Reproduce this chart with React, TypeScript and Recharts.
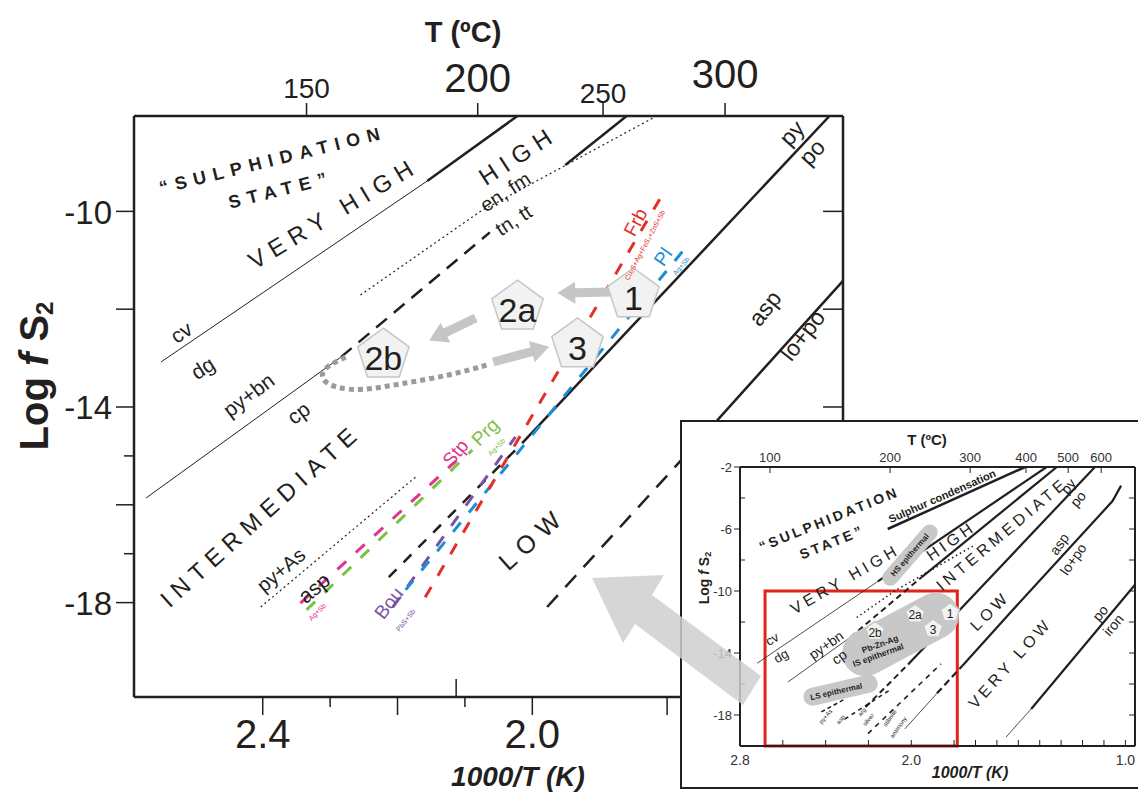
import React from 'react';
import { LineChart, Line, XAxis, YAxis, ReferenceDot, ReferenceLine, ReferenceArea } from 'recharts';

const FONT = '"Liberation Sans", Arial, Helvetica, sans-serif';
const INK = '#231f20';

// ================= MAIN DIAGRAM (x = 1000/T (K), y = log fS2) =================
const mainXDomain = [1.539, 2.591];
const mainYDomain = [-19.93, -8.05];
const mainXTicks = [2.4, 2.3, 2.2, 2.113, 2.1, 2.0, 1.8];
const mainXMajor = [2.4, 2.2, 2.0, 1.8];
const mainXLabels = ['2.4', '2.0'];
const innerTickValue = 2.113;
const mainYTicks = [-10, -12, -14, -15, -16, -17, -18];
const mainYLabels = [-10, -14, -18];
const topTickPositions = [2.335, 2.081, 1.895, 1.714];
const topTickLabels = ['150', '200', '250', '300'];

const cvDgThin = [{ x: 2.551, y: -13.08 }, { x: 2.156, y: -9.38 }];
const cvDgThick = [{ x: 2.156, y: -9.38 }, { x: 2.022, y: -8.05 }];
const pyBnCp = [{ x: 2.573, y: -15.86 }, { x: 2.284, y: -12.98 }];
const enTnDashed = [{ x: 2.284, y: -12.98 }, { x: 2.063, y: -10.43 }];
const enTnThick = [{ x: 1.951, y: -9.05 }, { x: 1.86, y: -8.05 }];
const dottedHigh = [{ x: 2.255, y: -11.71 }, { x: 2.077, y: -10.0 }, { x: 1.821, y: -8.09 }];
const pyPoDashed = [{ x: 2.213, y: -17.48 }, { x: 2.015, y: -14.74 }];
const pyPoSolid = [{ x: 2.015, y: -14.74 }, { x: 1.559, y: -8.05 }];
const aspDashed = [{ x: 1.978, y: -18.09 }, { x: 1.76, y: -14.8 }];
const aspSolid = [{ x: 1.76, y: -14.8 }, { x: 1.539, y: -11.42 }];
const pyAsDotted = [{ x: 2.403, y: -18.09 }, { x: 2.173, y: -15.43 }];
const frbRed = [{ x: 2.159, y: -17.89 }, { x: 1.807, y: -9.66 }];
const plBlue = [{ x: 2.188, y: -17.74 }, { x: 1.773, y: -10.75 }];
const bouPurple = [{ x: 2.207, y: -18.09 }, { x: 2.025, y: -14.61 }];
const stpMagenta = [{ x: 2.344, y: -18.01 }, { x: 2.113, y: -15.1 }];
const prgGreen = [{ x: 2.335, y: -18.15 }, { x: 2.089, y: -14.88 }];
const pathCurve = [
  { x: 2.277, y: -12.98 }, { x: 2.311, y: -13.2 }, { x: 2.314, y: -13.45 }, { x: 2.292, y: -13.61 },
  { x: 2.255, y: -13.67 }, { x: 2.196, y: -13.53 }, { x: 2.121, y: -13.35 }, { x: 2.067, y: -13.14 },
];

const stages = [
  { t: '1', x: 1.85, y: -11.71 },
  { t: '2a', x: 2.022, y: -11.96 },
  { t: '2b', x: 2.221, y: -12.94 },
  { t: '3', x: 1.933, y: -12.73 },
];
const stageArrows = [
  { x1: 1.884, y1: -11.65, x2: 1.963, y2: -11.67 },
  { x1: 2.084, y1: -12.18, x2: 2.153, y2: -12.64 },
  { x1: 2.058, y1: -13.08, x2: 1.975, y2: -12.77 },
];

const mainLabels = [
  { t: '\u201cSULPHIDATION', x: 2.385, y: -8.95, a: -14, s: 18, b: 1, ls: 7 },
  { t: 'STATE\u201d', x: 2.373, y: -9.56, a: -14, s: 18, b: 1, ls: 7 },
  { t: 'VERY HIGH', x: 2.295, y: -10.03, a: -31, s: 24, ls: 7 },
  { t: 'HIGH', x: 2.021, y: -8.85, a: -33, s: 24, ls: 7 },
  { t: 'en, fm', x: 2.04, y: -9.6, a: -33, s: 20 },
  { t: 'tn, tt', x: 2.028, y: -10.18, a: -33, s: 20 },
  { t: 'cv', x: 2.521, y: -12.47, a: -33, s: 21 },
  { t: 'dg', x: 2.489, y: -13.2, a: -33, s: 21 },
  { t: 'py+bn', x: 2.421, y: -13.75, a: -37, s: 21 },
  { t: 'cp', x: 2.347, y: -14.12, a: -37, s: 21 },
  { t: 'INTERMEDIATE', x: 2.403, y: -16.21, a: -42, s: 24, ls: 7 },
  { t: 'py+As', x: 2.373, y: -17.33, a: -40, s: 20 },
  { t: 'asp', x: 2.324, y: -17.7, a: -40, s: 21 },
  { t: 'Stp', x: 2.114, y: -14.94, a: -50, s: 19, c: '#e2338f' },
  { t: 'Prg', x: 2.07, y: -14.51, a: -45, s: 19, c: '#7cc242' },
  { t: 'Bou', x: 2.213, y: -18.01, a: -52, s: 19, c: '#7b52a1' },
  { t: 'Frb', x: 1.847, y: -10.22, a: -62, s: 19, c: '#e42e2b' },
  { t: 'Pl', x: 1.806, y: -10.93, a: -55, s: 19, c: '#1b8fd3' },
  { t: 'LOW', x: 2.0, y: -16.68, a: -42, s: 25, ls: 8 },
  { t: 'py', x: 1.615, y: -8.4, a: -48, s: 23 },
  { t: 'po', x: 1.585, y: -8.79, a: -48, s: 23 },
  { t: 'asp', x: 1.655, y: -11.98, a: -52, s: 23 },
  { t: 'lo+po', x: 1.599, y: -12.53, a: -52, s: 23 },
  { t: 'Cu\u2082S+Ag+FeS\u2082+ZnS+Sb', x: 1.833, y: -10.69, a: -62, s: 7, c: '#e42e2b' },
  { t: 'Ag+Sb', x: 1.779, y: -11.12, a: -50, s: 7, c: '#1b8fd3' },
  { t: 'Ag+Sb', x: 2.053, y: -14.82, a: -45, s: 7, c: '#7cc242' },
  { t: 'PbS+Sb', x: 2.188, y: -18.36, a: -52, s: 7, c: '#7b52a1' },
  { t: 'Ag+Sb', x: 2.319, y: -18.19, a: -45, s: 7, c: '#e2338f' },
];

// ================= INSET DIAGRAM =================
const insetXDomain = [0.955, 2.8];
const insetYDomain = [-20, -2];
const insetXTicks = [2.8, 2.6, 2.4, 2.2, 2.0, 1.8, 1.7, 1.6, 1.5, 1.4, 1.3, 1.2, 1.1, 1.0];
const insetXLabels = ['2.8', '2.0', '1.0'];
const insetYTicks = [-2, -4, -6, -8, -10, -12, -14, -16, -18];
const insetYLabels = [-2, -6, -10, -14, -18];
const insetTopPositions = [2.66, 2.099, 1.725, 1.464, 1.267, 1.113];
const insetTopLabels = ['100', '200', '300', '400', '500', '600'];

const inSulphur = [{ x: 2.11, y: -6.0 }, { x: 1.468, y: -2.0 }];
const inCvDgThin = [{ x: 2.72, y: -14.66 }, { x: 2.156, y: -9.38 }];
const inCvDgThick = [{ x: 2.156, y: -9.38 }, { x: 1.368, y: -2.0 }];
const inPyBnCp = [{ x: 2.576, y: -15.87 }, { x: 2.284, y: -12.98 }];
const inEnTnDashed = [{ x: 2.284, y: -12.98 }, { x: 1.951, y: -9.1 }];
const inEnTnThick = [{ x: 1.951, y: -9.1 }, { x: 1.32, y: -2.0 }];
const inDotted = [{ x: 2.255, y: -11.71 }, { x: 2.077, y: -10.0 }, { x: 1.7, y: -7.0 }];
const inPyPoDashed = [{ x: 2.213, y: -17.48 }, { x: 2.015, y: -14.74 }];
const inPyPoThick = [{ x: 2.015, y: -14.74 }, { x: 1.142, y: -2.0 }];
const inAspThin = [{ x: 2.03, y: -18.9 }, { x: 1.88, y: -16.6 }];
const inAspDashed = [{ x: 1.88, y: -16.6 }, { x: 1.76, y: -14.8 }];
const inAspThick = [{ x: 1.76, y: -14.8 }, { x: 1.539, y: -11.42 }, { x: 1.06, y: -4.2 }, { x: 1.02, y: -3.2 }];
const inPoIronThin = [{ x: 1.557, y: -19.42 }, { x: 1.44, y: -17.61 }];
const inPoIronThick = [{ x: 1.44, y: -17.61 }, { x: 0.955, y: -9.6 }];
const inStibnite = [{ x: 2.202, y: -19.2 }, { x: 1.861, y: -14.7 }];
const inArg = [{ x: 2.31, y: -18.26 }, { x: 2.09, y: -16.3 }];
const inPyAs = [{ x: 2.42, y: -17.8 }, { x: 2.31, y: -16.97 }];
const inRedBox = { x1: 2.683, x2: 1.785, y1: -20, y2: -10 };

const inStages = [
  { t: '1', x: 1.819, y: -11.4 },
  { t: '2a', x: 1.982, y: -11.5 },
  { t: '2b', x: 2.169, y: -12.6 },
  { t: '3', x: 1.898, y: -12.45 },
];
const inStageArrows = [
  { x1: 1.87, y1: -11.4, x2: 1.93, y2: -11.45 },
  { x1: 2.04, y1: -11.75, x2: 2.11, y2: -12.2 },
  { x1: 2.03, y1: -12.75, x2: 1.95, y2: -12.55 },
];
const inBands = [
  { x: 2.006, y: -7.68, w: 76, h: 16, a: -49 },
  { x: 2.05, y: -12.8, w: 126, h: 46, a: -28 },
  { x: 2.33, y: -16.4, w: 76, h: 18, a: -13 },
];
const insetLabels = [
  { t: 'Sulphur condensation', x: 1.856, y: -3.87, a: -24, s: 11, b: 1 },
  { t: '\u201cSULPHIDATION', x: 2.384, y: -5.35, a: -22, s: 14, b: 1, ls: 3 },
  { t: 'STATE\u201d', x: 2.37, y: -6.84, a: -22, s: 14, b: 1, ls: 3 },
  { t: 'VERY HIGH', x: 2.309, y: -9.23, a: -30, s: 16, ls: 4 },
  { t: 'HIGH', x: 1.814, y: -6.77, a: -35, s: 16, ls: 4 },
  { t: 'INTERMEDIATE', x: 1.576, y: -6.32, a: -40, s: 16, ls: 4 },
  { t: 'py', x: 1.267, y: -3.23, a: -50, s: 14 },
  { t: 'po', x: 1.221, y: -4.06, a: -50, s: 14 },
  { t: 'asp', x: 1.309, y: -6.97, a: -55, s: 14 },
  { t: 'lo+po', x: 1.244, y: -7.94, a: -55, s: 14 },
  { t: 'LOW', x: 1.632, y: -11.29, a: -45, s: 16, ls: 4 },
  { t: 'VERY LOW', x: 1.538, y: -14.65, a: -48, s: 16, ls: 4 },
  { t: 'po', x: 1.118, y: -11.42, a: -50, s: 14 },
  { t: 'iron', x: 1.057, y: -12.19, a: -50, s: 14 },
  { t: 'cv', x: 2.65, y: -13.1, a: -30, s: 13 },
  { t: 'dg', x: 2.608, y: -14.19, a: -30, s: 13 },
  { t: 'py+bn', x: 2.398, y: -13.48, a: -35, s: 14 },
  { t: 'cp', x: 2.337, y: -14.26, a: -35, s: 14 },
  { t: 'HS epithermal', x: 2.006, y: -7.68, a: -49, s: 8, b: 1 },
  { t: 'Pb-Zn-Ag', x: 2.146, y: -13.42, a: -20, s: 8.5, b: 1 },
  { t: 'IS epithermal', x: 2.155, y: -14.13, a: -20, s: 8.5, b: 1 },
  { t: 'LS epithermal', x: 2.35, y: -16.5, a: -13, s: 8, b: 1 },
  { t: 'py+As', x: 2.4, y: -18.1, a: -50, s: 6 },
  { t: 'asp', x: 2.33, y: -18.3, a: -50, s: 6 },
  { t: 'arg', x: 2.23, y: -17.8, a: -50, s: 6 },
  { t: 'silver', x: 2.2, y: -18.3, a: -50, s: 6 },
  { t: 'stibnite', x: 2.1, y: -18.2, a: -55, s: 6 },
  { t: 'antimony', x: 2.06, y: -18.8, a: -55, s: 6 },
];

// ----------------- helpers -----------------
const textShape = (l: any) => (p: any) => (
  <text
    x={p.cx}
    y={p.cy}
    transform={`rotate(${l.a} ${p.cx} ${p.cy})`}
    textAnchor="middle"
    dominantBaseline="central"
    fontSize={l.s}
    fontWeight={l.b ? 700 : 400}
    fill={l.c || INK}
    fontFamily={FONT}
    style={{ letterSpacing: l.ls || 0 }}
  >
    {l.t}
  </text>
);

const pentagonShape = (label: string, r: number, fs: number) => (p: any) => {
  const pts = [0, 1, 2, 3, 4]
    .map((k) => {
      const ang = -Math.PI / 2 + (k * 2 * Math.PI) / 5;
      return `${p.cx + r * Math.cos(ang)},${p.cy + r * Math.sin(ang)}`;
    })
    .join(' ');
  return (
    <g>
      <polygon points={pts} fill="#f2f2f2" stroke="#c6c6c6" strokeWidth={1.5} />
      <text x={p.cx} y={p.cy + r * 0.12} textAnchor="middle" dominantBaseline="central" fontSize={fs} fill={INK} fontFamily={FONT}>
        {label}
      </text>
    </g>
  );
};

const arrowShape = (shaftW: number, headW: number, headL: number, color: string) => (p: any) => {
  const { x1, y1, x2, y2 } = p;
  const dx = x2 - x1;
  const dy = y2 - y1;
  const len = Math.hypot(dx, dy) || 1;
  const ux = dx / len;
  const uy = dy / len;
  const nx = -uy;
  const ny = ux;
  const bx = x2 - ux * headL;
  const by = y2 - uy * headL;
  const pts = [
    [x1 + (nx * shaftW) / 2, y1 + (ny * shaftW) / 2],
    [bx + (nx * shaftW) / 2, by + (ny * shaftW) / 2],
    [bx + (nx * headW) / 2, by + (ny * headW) / 2],
    [x2, y2],
    [bx - (nx * headW) / 2, by - (ny * headW) / 2],
    [bx - (nx * shaftW) / 2, by - (ny * shaftW) / 2],
    [x1 - (nx * shaftW) / 2, y1 - (ny * shaftW) / 2],
  ]
    .map((q) => q.join(','))
    .join(' ');
  return <polygon points={pts} fill={color} />;
};

const bandShape = (b: any) => (p: any) => (
  <rect
    x={p.cx - b.w / 2}
    y={p.cy - b.h / 2}
    width={b.w}
    height={b.h}
    rx={b.h / 2}
    fill="#c8c8c8"
    transform={`rotate(${b.a} ${p.cx} ${p.cy})`}
  />
);

const seg = (data: any[], key: string, stroke: string, w: number, dash?: string, type: any = 'linear') => (
  <Line
    key={key}
    data={data}
    dataKey="y"
    type={type}
    stroke={stroke}
    strokeWidth={w}
    strokeDasharray={dash}
    dot={false}
    activeDot={false}
    isAnimationActive={false}
    strokeLinecap="butt"
  />
);

// ----------------- main chart ticks -----------------
const LeftTick = (p: any) => {
  const v = p.payload.value;
  const long = v % 2 === 0;
  return (
    <g>
      <line x1={p.x} x2={p.x - (long ? 18 : 10)} y1={p.y} y2={p.y} stroke={INK} strokeWidth={1.5} />
      {mainYLabels.includes(v) && (
        <text x={p.x - 22} y={p.y + 1} textAnchor="end" dominantBaseline="central" fontSize={33} fill={INK} fontFamily={FONT}>
          {v}
        </text>
      )}
    </g>
  );
};
const RightTick = (p: any) => {
  const v = p.payload.value;
  const long = v % 2 === 0;
  return <line x1={p.x} x2={p.x - (long ? 20 : 10)} y1={p.y} y2={p.y} stroke={INK} strokeWidth={1.5} />;
};
const BottomTick = (p: any) => {
  const v = p.payload.value;
  if (v === innerTickValue) {
    return <line x1={p.x} x2={p.x} y1={p.y} y2={p.y - 18} stroke={INK} strokeWidth={1.5} />;
  }
  const long = mainXMajor.includes(v);
  const lab = mainXLabels.find((s) => Number(s) === v);
  return (
    <g>
      <line x1={p.x} x2={p.x} y1={p.y} y2={p.y + (long ? 18 : 10)} stroke={INK} strokeWidth={1.5} />
      {lab && (
        <text x={p.x} y={p.y + 51} textAnchor="middle" fontSize={40} fill={INK} fontFamily={FONT}>
          {lab}
        </text>
      )}
    </g>
  );
};
const topLabelStyle = [
  { s: 28, dy: -18 },
  { s: 40, dy: -24 },
  { s: 28, dy: -13 },
  { s: 40, dy: -28 },
];
const TopTick = (p: any) => {
  const i = topTickPositions.indexOf(p.payload.value);
  const st = topLabelStyle[i] || { s: 28, dy: -18 };
  return (
    <g>
      <line x1={p.x} x2={p.x} y1={p.y} y2={p.y - 13} stroke={INK} strokeWidth={1.5} />
      <text x={p.x} y={p.y + st.dy} textAnchor="middle" fontSize={st.s} fill={INK} fontFamily={FONT}>
        {topTickLabels[i]}
      </text>
    </g>
  );
};

// ----------------- inset ticks -----------------
const InLeftTick = (p: any) => {
  const v = p.payload.value;
  const lab = insetYLabels.includes(v);
  return (
    <g>
      <line x1={p.x} x2={lab ? p.x - 6 : p.x + 5} y1={p.y} y2={p.y} stroke={INK} strokeWidth={1} />
      {lab && (
        <text x={p.x - 8} y={p.y} textAnchor="end" dominantBaseline="central" fontSize={13} fill="#333" fontFamily={FONT}>
          {v}
        </text>
      )}
    </g>
  );
};
const InRightTick = (p: any) => <line x1={p.x} x2={p.x - 6} y1={p.y} y2={p.y} stroke={INK} strokeWidth={1} />;
const InBottomTick = (p: any) => {
  const v = p.payload.value;
  const lab = insetXLabels.find((s) => Number(s) === v);
  return (
    <g>
      <line x1={p.x} x2={p.x} y1={p.y} y2={p.y - 6} stroke={INK} strokeWidth={1} />
      {lab && (
        <text x={p.x} y={p.y + 19} textAnchor="middle" fontSize={14} fill="#333" fontFamily={FONT}>
          {lab}
        </text>
      )}
    </g>
  );
};
const InTopTick = (p: any) => {
  const i = insetTopPositions.indexOf(p.payload.value);
  return (
    <g>
      <line x1={p.x} x2={p.x} y1={p.y} y2={p.y + 6} stroke={INK} strokeWidth={1} />
      <text x={p.x} y={p.y - 5} textAnchor="middle" fontSize={13} fill="#333" fontFamily={FONT}>
        {insetTopLabels[i]}
      </text>
    </g>
  );
};

const axisLine = { stroke: INK, strokeWidth: 2.5 };
const inAxisLine = { stroke: INK, strokeWidth: 2 };

function MainChart() {
  // plot area: left 134, top 116, right 843, bottom 697
  return (
    <LineChart width={1138} height={792} margin={{ top: 56, left: 74, right: 275, bottom: 35 }}>
      <XAxis type="number" dataKey="x" domain={mainXDomain} reversed allowDataOverflow height={60} ticks={mainXTicks} interval={0} tickSize={0} tickMargin={0} tickLine={false} axisLine={axisLine} tick={BottomTick} />
      <XAxis xAxisId="top" orientation="top" type="number" dataKey="x" domain={mainXDomain} reversed allowDataOverflow height={60} ticks={topTickPositions} interval={0} tickSize={0} tickMargin={0} tickLine={false} axisLine={axisLine} tick={TopTick} />
      <YAxis type="number" domain={mainYDomain} allowDataOverflow width={60} ticks={mainYTicks} interval={0} tickSize={0} tickMargin={0} tickLine={false} axisLine={axisLine} tick={LeftTick} />
      <YAxis yAxisId="right" orientation="right" type="number" domain={mainYDomain} allowDataOverflow width={20} ticks={mainYTicks} interval={0} tickSize={0} tickMargin={0} tickLine={false} axisLine={axisLine} tick={RightTick} />

      {seg(cvDgThin, 'cvthin', INK, 1)}
      {seg(cvDgThick, 'cvthick', INK, 2.5)}
      {seg(pyBnCp, 'pybn', INK, 1)}
      {seg(enTnDashed, 'entn', INK, 2.5, '14 9')}
      {seg(enTnThick, 'entnthick', INK, 2.5)}
      {seg(dottedHigh, 'dotted', INK, 1.2, '2 3')}
      {seg(pyPoDashed, 'pypod', INK, 2.5, '11 10')}
      {seg(pyPoSolid, 'pypos', INK, 2.5)}
      {seg(aspDashed, 'aspd', INK, 2.5, '16 11')}
      {seg(aspSolid, 'asps', INK, 2.5)}
      {seg(pyAsDotted, 'pyas', INK, 1.2, '2 3')}
      {seg(stpMagenta, 'stp', '#e2338f', 3, '12 13')}
      {seg(prgGreen, 'prg', '#7cc242', 3, '12 13')}
      {seg(bouPurple, 'bou', '#7b52a1', 3, '12 13')}
      {seg(plBlue, 'pl', '#1b8fd3', 3, '12 13')}
      {seg(frbRed, 'frb', '#e42e2b', 3, '12 13')}
      {seg(pathCurve, 'curve', '#9b9b9b', 5, '5 4', 'basis')}

      {stageArrows.map((a, i) => (
        <ReferenceLine key={`sa${i}`} segment={[{ x: a.x1, y: a.y1 }, { x: a.x2, y: a.y2 }]} ifOverflow="visible" shape={arrowShape(9, 22, 18, '#c6c6c6')} />
      ))}
      {stages.map((s) => (
        <ReferenceDot key={`st${s.t}`} x={s.x} y={s.y} r={0} ifOverflow="visible" shape={pentagonShape(s.t, 27, 34)} />
      ))}
      {mainLabels.map((l, i) => (
        <ReferenceDot key={`ml${i}`} x={l.x} y={l.y} r={0} ifOverflow="visible" shape={textShape(l)} />
      ))}
    </LineChart>
  );
}

function InsetChart() {
  // plot area relative: left 58, top 45, right 453, bottom 324
  return (
    <LineChart width={456} height={365} margin={{ top: 15, left: 18, right: 0, bottom: 11 }}>
      <XAxis type="number" dataKey="x" domain={insetXDomain} reversed allowDataOverflow height={30} ticks={insetXTicks} interval={0} tickSize={0} tickMargin={0} tickLine={false} axisLine={inAxisLine} tick={InBottomTick} />
      <XAxis xAxisId="top" orientation="top" type="number" dataKey="x" domain={insetXDomain} reversed allowDataOverflow height={30} ticks={insetTopPositions} interval={0} tickSize={0} tickMargin={0} tickLine={false} axisLine={inAxisLine} tick={InTopTick} />
      <YAxis type="number" domain={insetYDomain} allowDataOverflow width={40} ticks={insetYTicks} interval={0} tickSize={0} tickMargin={0} tickLine={false} axisLine={inAxisLine} tick={InLeftTick} />
      <YAxis yAxisId="right" orientation="right" type="number" domain={insetYDomain} allowDataOverflow width={3} ticks={insetYTicks.slice(1)} interval={0} tickSize={0} tickMargin={0} tickLine={false} axisLine={inAxisLine} tick={InRightTick} />

      {inBands.map((b, i) => (
        <ReferenceDot key={`band${i}`} x={b.x} y={b.y} r={0} ifOverflow="visible" shape={bandShape(b)} />
      ))}

      {seg(inSulphur, 'isul', INK, 2.5)}
      {seg(inCvDgThin, 'icvt', INK, 0.8)}
      {seg(inCvDgThick, 'icvk', INK, 2.2)}
      {seg(inPyBnCp, 'ipybn', INK, 0.8)}
      {seg(inEnTnDashed, 'ientd', INK, 2, '6 4')}
      {seg(inEnTnThick, 'ientk', INK, 2.2)}
      {seg(inDotted, 'idot', INK, 1.5, '1.5 3')}
      {seg(inPyPoDashed, 'ipypod', INK, 2, '6 4')}
      {seg(inPyPoThick, 'ipypok', INK, 2.2)}
      {seg(inAspThin, 'iaspt', INK, 0.8)}
      {seg(inAspDashed, 'iaspd', INK, 2.2, '7 4')}
      {seg(inAspThick, 'iaspk', INK, 2.2)}
      {seg(inPoIronThin, 'ipot', INK, 0.8)}
      {seg(inPoIronThick, 'ipok', INK, 2.2)}
      {seg(inStibnite, 'istib', INK, 1.6, '5 5')}
      {seg(inArg, 'iarg', INK, 1.6, '4 4')}
      {seg(inPyAs, 'ipyas', INK, 1.6, '4 3')}

      <ReferenceArea x1={inRedBox.x1} x2={inRedBox.x2} y1={inRedBox.y1} y2={inRedBox.y2} ifOverflow="visible" fill="none" fillOpacity={0} stroke="#e2231a" strokeWidth={3} />

      {inStageArrows.map((a, i) => (
        <ReferenceLine key={`isa${i}`} segment={[{ x: a.x1, y: a.y1 }, { x: a.x2, y: a.y2 }]} ifOverflow="visible" shape={arrowShape(3, 8, 6, '#8a8a8a')} />
      ))}
      {inStages.map((s) => (
        <ReferenceDot key={`ist${s.t}`} x={s.x} y={s.y} r={0} ifOverflow="visible" shape={pentagonShape(s.t, 10, 12)} />
      ))}
      {insetLabels.map((l, i) => (
        <ReferenceDot key={`il${i}`} x={l.x} y={l.y} r={0} ifOverflow="visible" shape={textShape(l)} />
      ))}
    </LineChart>
  );
}

export default function App() {
  return (
    <div style={{ position: 'absolute', left: 0, top: 0, width: 1138, height: 792, overflow: 'hidden', background: '#fff', fontFamily: FONT }}>
      <div style={{ position: 'absolute', left: 0, top: 0 }}>
        <MainChart />
      </div>
      <div
        style={{
          position: 'absolute',
          left: 680,
          top: 420,
          width: 470,
          height: 365,
          border: `2.5px solid ${INK}`,
          background: '#fff',
          overflow: 'hidden',
        }}
      >
        <InsetChart />
      </div>
      <svg width={1138} height={792} style={{ position: 'absolute', left: 0, top: 0, pointerEvents: 'none' }}>
        <polygon
          points="592,578 664,575 652,595 761,676 743,705 635,624 623,643"
          fill="#cfcfcf"
          opacity={0.85}
        />
        <text x={463} y={42} textAnchor="middle" fontSize={29} fontWeight={700} fill={INK} fontFamily={FONT}>
          T (ºC)
        </text>
        <text x={518} y={786} textAnchor="middle" fontSize={28} fontWeight={700} fontStyle="italic" fill={INK} fontFamily={FONT}>
          1000/T (K)
        </text>
        <text x={34} y={376} transform="rotate(-90 34 376)" textAnchor="middle" dominantBaseline="central" fontSize={40} fontWeight={700} fill={INK} fontFamily={FONT}>
          Log <tspan fontStyle="italic">f</tspan> S<tspan fontSize={24} dy={10}>2</tspan>
        </text>
        <text x={927} y={445} textAnchor="middle" fontSize={15} fontWeight={700} fill={INK} fontFamily={FONT}>
          T (ºC)
        </text>
        <text x={970} y={778} textAnchor="middle" fontSize={16} fontWeight={700} fontStyle="italic" fill={INK} fontFamily={FONT}>
          1000/T (K)
        </text>
        <text x={704} y={578} transform="rotate(-90 704 578)" textAnchor="middle" dominantBaseline="central" fontSize={14} fontWeight={700} fill={INK} fontFamily={FONT}>
          Log <tspan fontStyle="italic">f</tspan> S<tspan fontSize={9} dy={4}>2</tspan>
        </text>
      </svg>
    </div>
  );
}
